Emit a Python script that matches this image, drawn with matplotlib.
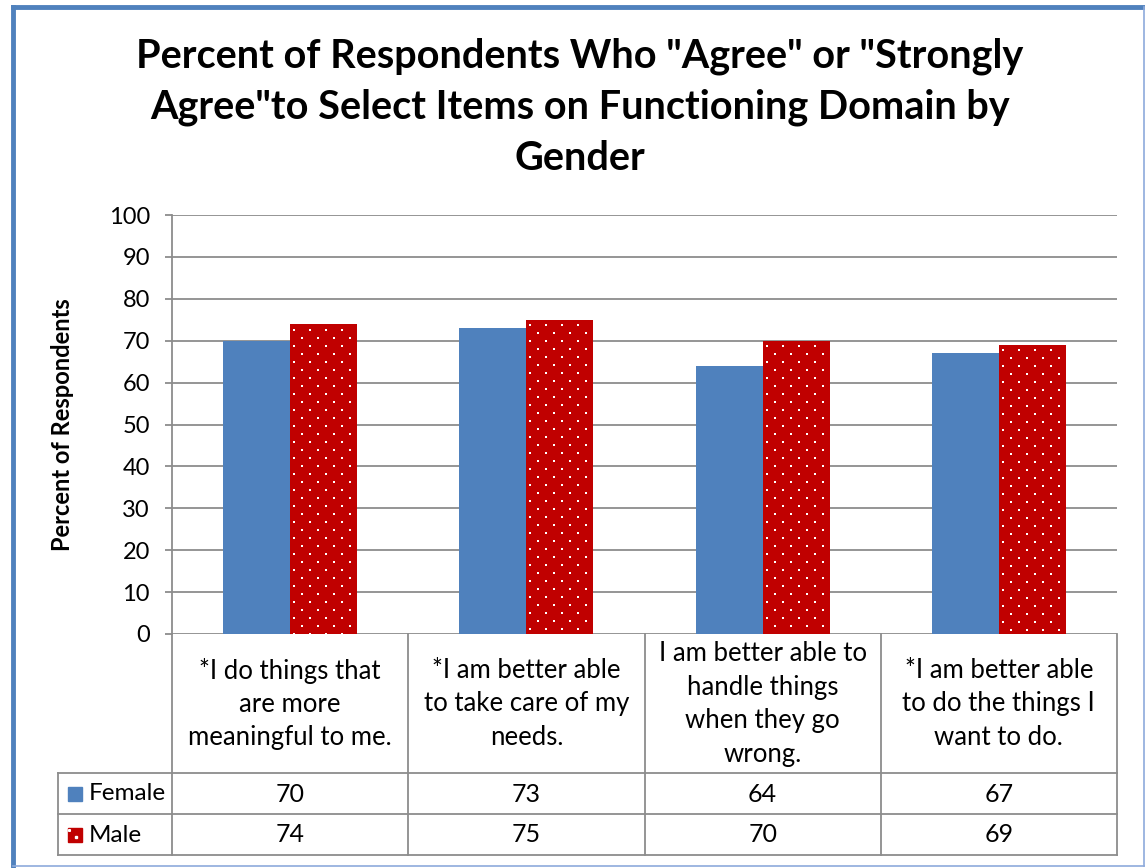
import matplotlib
matplotlib.use('Agg')
import matplotlib.pyplot as plt
import numpy as np
from matplotlib.lines import Line2D
from matplotlib.patches import Rectangle

plt.rcParams['font.family'] = ['Lato', 'DejaVu Sans']

# data
categories = ['*I do things that\nare more\nmeaningful to me.',
              '*I am better able\nto take care of my\nneeds.',
              'I am better able to\nhandle things\nwhen they go\nwrong.',
              '*I am better able\nto do the things I\nwant to do.']
series_names = ['Female', 'Male']
female = [70, 73, 64, 67]
male = [74, 75, 70, 69]
yticks = [0, 10, 20, 30, 40, 50, 60, 70, 80, 90, 100]

blue = '#4F81BD'
red = '#C00000'
grid_c = '#8C8C8C'
fs = 18.5

W, H = 1145, 868
fig = plt.figure(figsize=(W / 100, H / 100), dpi=100)

# blue frame around the chart
fig.add_artist(Line2D([12.5 / W, 12.5 / W], [1 - 866 / H, 1 - 7 / H], color=blue, lw=3.5, transform=fig.transFigure))
fig.add_artist(Line2D([12.5 / W, 1143 / W], [1 - 7 / H, 1 - 7 / H], color=blue, lw=3.5, transform=fig.transFigure))
fig.add_artist(Line2D([1143.5 / W, 1143.5 / W], [1 - 866 / H, 1 - 7 / H], color='#8EAADB', lw=1.2, transform=fig.transFigure))
fig.add_artist(Line2D([12.5 / W, 1143.5 / W], [1 - 866 / H, 1 - 866 / H], color='#8EAADB', lw=1.2, transform=fig.transFigure))

fig.text(580 / W, 1 - 107 / H,
         'Percent of Respondents Who "Agree" or "Strongly\nAgree"to Select Items on Functioning Domain by\nGender',
         ha='center', va='center', fontsize=28.5, fontweight='bold', linespacing=1.45)

left, right, top, bottom = 172, 1117, 215, 634
ax = fig.add_axes([left / W, 1 - bottom / H, (right - left) / W, (bottom - top) / H])

x = np.arange(len(categories))
bw = 0.284
ax.bar(x - bw / 2, female, bw, color=blue, zorder=3)
mbars = ax.bar(x + bw / 2, male, bw, color=red, zorder=3)

# white dot texture on the male bars (16 px across, staggered rows 8 px apart)
dx = 16 / (right - left) * 4
dy = 8 / (bottom - top) * 100
for b in mbars:
    x0, w, h = b.get_x(), b.get_width(), b.get_height()
    pts_x, pts_y = [], []
    for k, yy in enumerate(np.arange(h - dy * 0.7, 0, -dy)):
        off = dx * 0.25 if k % 2 == 0 else dx * 0.75
        xs = np.arange(x0 + off, x0 + w, dx)
        pts_x.extend(xs)
        pts_y.extend([yy] * len(xs))
    sc = ax.scatter(pts_x, pts_y, marker='s', s=2.2, color='white', lw=0, zorder=4)
    sc.set_clip_path(b)

ax.set_xlim(-0.5, len(categories) - 0.5)
ax.set_ylim(0, 100)
ax.set_yticks(yticks)
ax.yaxis.grid(True, color=grid_c, lw=1.3, zorder=0)
ax.set_xticks([])
for s in ['top', 'right', 'bottom']:
    ax.spines[s].set_visible(False)
ax.spines['left'].set_color(grid_c)
ax.spines['left'].set_linewidth(1.3)
ax.tick_params(axis='y', length=5, width=1.3, color=grid_c, labelsize=17, pad=11)
fig.text(63 / W, 1 - 425 / H, 'Percent of Respondents', rotation=90, ha='center', va='center',
         fontsize=17, fontweight='bold')

# data table under the axis
def ay(px):
    return (bottom - px) / (bottom - top)

row_top, row_mid, row_bot = ay(773), ay(814), ay(855)
xl = (58 - left) / (right - left)
tr = ax.get_xaxis_transform()
tA = ax.transAxes
for bnd in np.arange(-0.5, len(categories), 1.0):
    ax.add_line(Line2D([bnd, bnd], [0, row_bot], color=grid_c, lw=1.3, transform=tr, clip_on=False))
ax.add_line(Line2D([xl, xl], [row_top, row_bot], color=grid_c, lw=1.3, transform=tA, clip_on=False))
for yy in [row_top, row_mid, row_bot]:
    ax.add_line(Line2D([xl, 1], [yy, yy], color=grid_c, lw=1.3, transform=tA, clip_on=False))

for i, c in enumerate(categories):
    ax.text(i, ay(704), c, transform=tr, ha='center', va='center', fontsize=fs, linespacing=1.42)
    ax.text(i, ay(794), str(female[i]), transform=tr, ha='center', va='center', fontsize=18)
    ax.text(i, ay(835), str(male[i]), transform=tr, ha='center', va='center', fontsize=18)

# legend keys in the table
ks = 14 / (right - left)
kh = 14 / (bottom - top)
kx = (68 - left) / (right - left)
ax.add_patch(Rectangle((kx, ay(801)), ks, kh, color=blue, transform=tA, clip_on=False))
ax.add_patch(Rectangle((kx, ay(842)), ks, kh, color=red, transform=tA, clip_on=False))
ax.plot([kx + ks * 0.6], [ay(837)], marker='s', ms=1.5, color='white', transform=tA, clip_on=False)
ax.plot([kx + ks * 0.1], [ay(829.5)], marker='s', ms=1.2, color='white', transform=tA, clip_on=False)
ax.text((89 - left) / (right - left), ay(794), series_names[0], transform=tA, ha='left', va='center', fontsize=17.5)
ax.text((89 - left) / (right - left), ay(835), series_names[1], transform=tA, ha='left', va='center', fontsize=17.5)

plt.savefig('out.png', dpi=100)
